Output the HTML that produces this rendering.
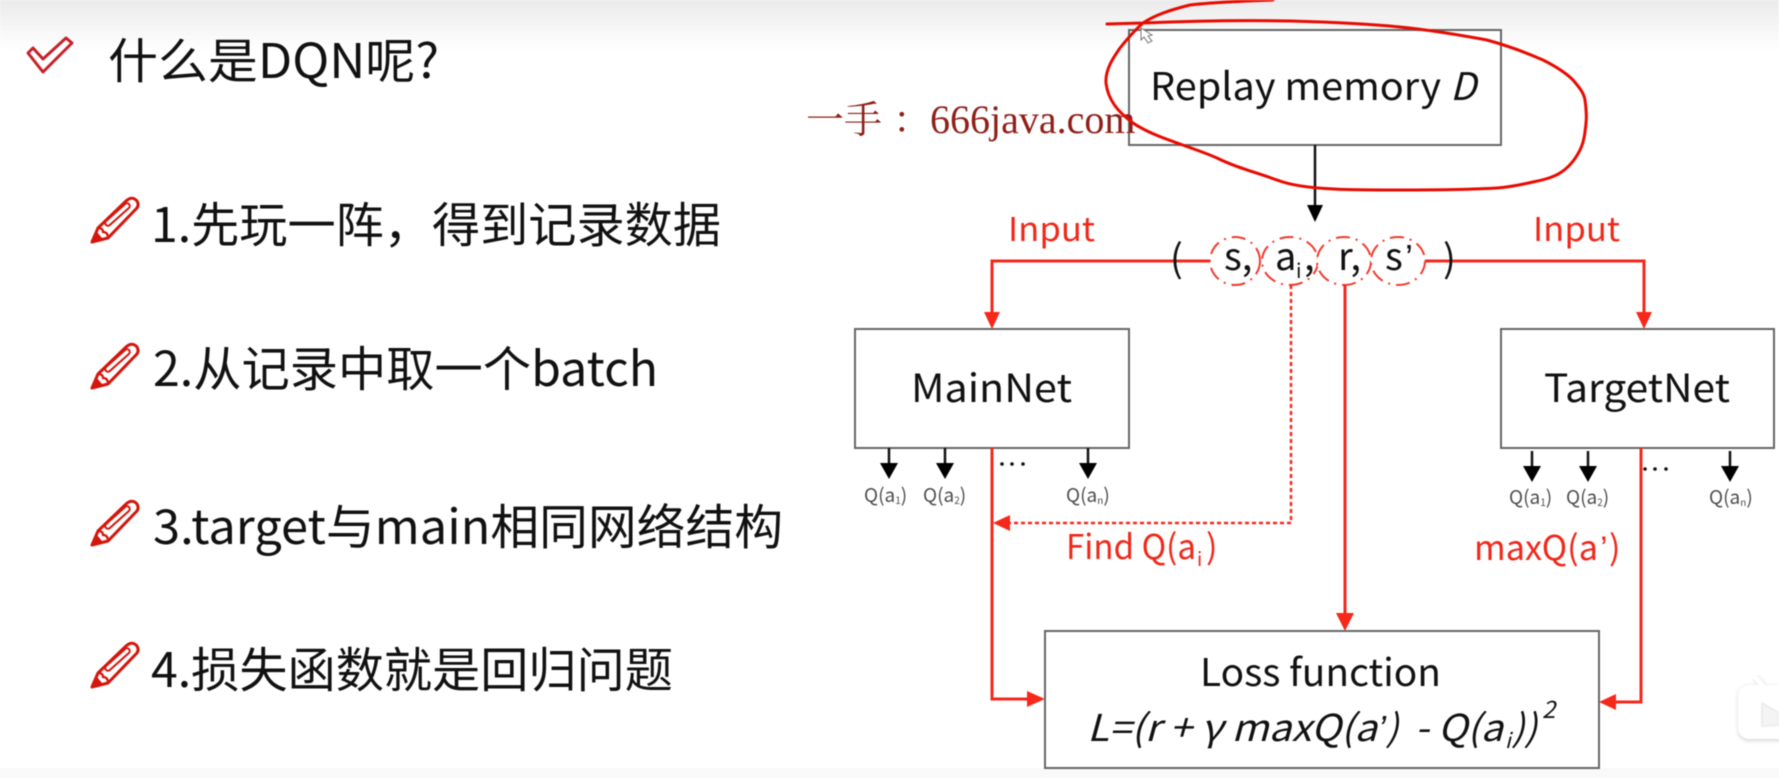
<!DOCTYPE html>
<html>
<head>
<meta charset="utf-8">
<style>
html,body{margin:0;padding:0;width:1779px;height:778px;overflow:hidden;background:#fff}
svg{display:block;position:absolute;left:0;top:0;filter:blur(0.4px)}
text{font-family:"Noto Sans CJK SC","Liberation Sans",sans-serif;fill:#111}
text.ap{font-family:"Liberation Sans",sans-serif}
text.wm{font-family:"Liberation Serif","Noto Serif CJK SC",serif;fill:#8f1f18}
.r{fill:#f0281a}
.q{fill:#4c4c4c;font-size:19px}
.box{fill:#fff;stroke:#666;stroke-width:2}
.rl{stroke:#f5281a;stroke-width:3;fill:none}
.rh{fill:#f5281a}
.circ{fill:#fff;stroke:#ee3a2c;stroke-width:2;stroke-dasharray:14 6 2 6}
</style>
</head>
<body>
<svg width="1779" height="778" viewBox="0 0 1779 778" xmlns="http://www.w3.org/2000/svg">
<defs>
<linearGradient id="top" x1="0" y1="0" x2="0" y2="1"><stop offset="0" stop-color="#ebebeb"/><stop offset="1" stop-color="#ffffff"/></linearGradient>
<filter id="sh" x="-20%" y="-20%" width="140%" height="140%"><feGaussianBlur stdDeviation="2"/></filter>
<g id="pencil">
<path d="M1 45 L7 31 L34 5 Q41 -2 46 4 Q49 9 44 13 L17 41 Z" fill="#fff" stroke="#d4160c" stroke-width="3" stroke-linejoin="round"/>
<path d="M1 45 L5 35 L10 41 Z" fill="#d4160c" stroke="#d4160c" stroke-width="1.5"/>
<path d="M7 31 Q12 31 12 35 Q17 35 17 41" fill="none" stroke="#d4160c" stroke-width="2.2"/>
<line x1="17" y1="26" x2="36" y2="9" stroke="#d4160c" stroke-width="7.5" stroke-linecap="round"/>
<line x1="17" y1="26" x2="36" y2="9" stroke="#fff" stroke-width="3.5" stroke-linecap="round"/>
</g>
</defs>
<rect x="0" y="0" width="1779" height="778" fill="#fff"/>
<rect x="0" y="0" width="1779" height="50" fill="url(#top)"/>
<rect x="0" y="768" width="1779" height="10" fill="#f9f9f9"/>

<!-- left column -->
<path d="M28 53 L33 48 L43 59 L66 38 L72 43 L43 72 Z" fill="#fff" stroke="#c8202a" stroke-width="3" stroke-linejoin="round"/>
<text x="108" y="78" font-size="48" textLength="331" lengthAdjust="spacingAndGlyphs">什么是DQN呢?</text>

<use href="#pencil" x="91" y="197"/>
<text x="151" y="242" font-size="48" textLength="570" lengthAdjust="spacingAndGlyphs">1.先玩一阵，得到记录数据</text>
<use href="#pencil" x="91" y="343"/>
<text x="153" y="386" font-size="48" textLength="505" lengthAdjust="spacingAndGlyphs">2.从记录中取一个batch</text>
<use href="#pencil" x="91" y="500"/>
<text x="153" y="544" font-size="48" textLength="630" lengthAdjust="spacingAndGlyphs">3.target与main相同网络结构</text>
<use href="#pencil" x="91" y="642"/>
<text x="151" y="687" font-size="48" textLength="522" lengthAdjust="spacingAndGlyphs">4.损失函数就是回归问题</text>

<!-- Replay memory -->
<rect class="box" x="1129" y="30" width="372" height="115"/>
<text x="1150" y="100" font-size="38" textLength="291" lengthAdjust="spacingAndGlyphs">Replay memory</text>
<text x="1450" y="100" font-size="38" font-style="italic">D</text>
<line x1="1315" y1="145" x2="1315" y2="208" stroke="#111" stroke-width="2.5"/>
<polygon points="1307,205 1323,205 1315,222" fill="#000"/>

<!-- watermark -->
<text class="wm" x="806" y="133" font-size="38">一手</text>
<text class="wm" x="893" y="133" font-size="38">：</text>
<text class="wm" x="930" y="133" font-size="40">666java.com</text>

<!-- red scribble -->
<path d="M1107 24 L1143 23 C1190 21 1240 20 1290 21 C1330 22 1370 24 1400 27 C1430 30 1460 35 1487 40 C1505 45 1525 52 1543 60 C1555 66 1565 72 1573 80 C1579 87 1584 93 1585 100 C1586 108 1587 115 1586 123 C1585 133 1584 142 1580 150 C1575 160 1568 168 1560 173 C1552 178 1542 180 1533 182 C1520 185 1510 187 1497 188 C1465 190 1430 190 1400 190 C1375 190 1350 190 1334 189 C1310 188 1290 185 1277 180 C1255 172 1235 167 1217 158 C1190 146 1155 138 1133 123 C1118 112 1108 100 1106 83 C1105 70 1113 58 1120 48 C1128 38 1135 30 1143 23 C1155 15 1170 10 1190 5 C1215 2 1245 1 1273 0" fill="none" stroke="#e80a00" stroke-width="3" stroke-linecap="round"/>

<!-- cursor -->
<path d="M1141 28 L1141 40 L1144 37 L1148 43 L1152 41 L1148 36 L1152 35 Z" fill="#fff" stroke="#777" stroke-width="1"/>

<!-- inputs -->
<text class="r" x="1008" y="241" font-size="33" textLength="87" lengthAdjust="spacingAndGlyphs">Input</text>
<text class="r" x="1533" y="241" font-size="33" textLength="87" lengthAdjust="spacingAndGlyphs">Input</text>
<path class="rl" d="M1210 261 L992 261 L992 315"/>
<polygon class="rh" points="984,312 1000,312 992,329"/>
<path class="rl" d="M1425 261 L1644 261 L1644 315"/>
<polygon class="rh" points="1636,312 1652,312 1644,329"/>

<!-- tuple -->
<text x="1170" y="272" font-size="38">(</text>
<text x="1443" y="272" font-size="38">)</text>
<ellipse class="circ" cx="1235" cy="261" rx="25" ry="24"/>
<ellipse class="circ" cx="1290" cy="261" rx="28" ry="24"/>
<ellipse class="circ" cx="1344" cy="261" rx="27" ry="24"/>
<ellipse class="circ" cx="1398" cy="261" rx="27" ry="24"/>
<text x="1224" y="270" font-size="38">s,</text>
<text x="1275" y="270" font-size="38">a</text>
<text x="1296" y="278" font-size="20">i</text>
<text x="1304" y="270" font-size="38">,</text>
<text x="1338" y="270" font-size="38">r,</text>
<text x="1385" y="270" font-size="38">s</text>
<text class="ap" x="1405" y="270" font-size="36">’</text>

<!-- dotted -->
<path d="M1291 285 L1291 523 L1008 523" fill="none" stroke="#f5281a" stroke-width="2.5" stroke-dasharray="4 3"/>
<polygon class="rh" points="993,523 1010,515 1010,531"/>
<text class="r" x="1066" y="559" font-size="34" textLength="130" lengthAdjust="spacingAndGlyphs">Find Q(a</text>
<text class="r" x="1197" y="566" font-size="19">i</text>
<text class="r" x="1206" y="559" font-size="34">)</text>

<!-- r line -->
<line class="rl" x1="1345" y1="285" x2="1345" y2="615"/>
<polygon class="rh" points="1336,613 1354,613 1345,631"/>

<!-- MainNet -->
<rect class="box" x="855" y="329" width="274" height="119"/>
<text x="911" y="402" font-size="39" textLength="161" lengthAdjust="spacingAndGlyphs">MainNet</text>
<path class="rl" d="M992 448 L992 699 L1030 699"/>
<polygon class="rh" points="1027,691 1027,707 1045,699"/>
<g stroke="#111" stroke-width="2.5">
<line x1="889" y1="448" x2="889" y2="465"/><line x1="945" y1="448" x2="945" y2="465"/><line x1="1088" y1="448" x2="1088" y2="465"/>
</g>
<polygon points="880,463 898,463 889,479" fill="#000"/>
<polygon points="936,463 954,463 945,479" fill="#000"/>
<polygon points="1079,463 1097,463 1088,479" fill="#000"/>
<circle cx="1002" cy="464" r="1.8" fill="#111"/><circle cx="1012" cy="464" r="1.8" fill="#111"/><circle cx="1023" cy="464" r="1.8" fill="#111"/>
<text class="q" x="864" y="502">Q(a<tspan font-size="10" dy="2">1</tspan><tspan dy="-2">)</tspan></text>
<text class="q" x="923" y="502">Q(a<tspan font-size="10" dy="2">2</tspan><tspan dy="-2">)</tspan></text>
<text class="q" x="1066" y="502">Q(a<tspan font-size="10" dy="2">n</tspan><tspan dy="-2">)</tspan></text>

<!-- TargetNet -->
<rect class="box" x="1501" y="329" width="273" height="119"/>
<text x="1544" y="402" font-size="39" textLength="186" lengthAdjust="spacingAndGlyphs">TargetNet</text>
<path class="rl" d="M1641 448 L1641 702 L1610 702"/>
<polygon class="rh" points="1599,702 1616,694 1616,710"/>
<g stroke="#111" stroke-width="2.5">
<line x1="1532" y1="451" x2="1532" y2="468"/><line x1="1588" y1="451" x2="1588" y2="468"/><line x1="1730" y1="451" x2="1730" y2="468"/>
</g>
<polygon points="1523,466 1541,466 1532,482" fill="#000"/>
<polygon points="1579,466 1597,466 1588,482" fill="#000"/>
<polygon points="1721,466 1739,466 1730,482" fill="#000"/>
<circle cx="1645" cy="469" r="1.8" fill="#111"/><circle cx="1655" cy="469" r="1.8" fill="#111"/><circle cx="1666" cy="469" r="1.8" fill="#111"/>
<text class="q" x="1509" y="504">Q(a<tspan font-size="10" dy="2">1</tspan><tspan dy="-2">)</tspan></text>
<text class="q" x="1566" y="504">Q(a<tspan font-size="10" dy="2">2</tspan><tspan dy="-2">)</tspan></text>
<text class="q" x="1709" y="504">Q(a<tspan font-size="10" dy="2">n</tspan><tspan dy="-2">)</tspan></text>
<text class="r" x="1474" y="560" font-size="34" textLength="124" lengthAdjust="spacingAndGlyphs">maxQ(a</text>
<text class="r ap" x="1600" y="560" font-size="34">’</text>
<text class="r" x="1609" y="560" font-size="34">)</text>

<!-- Loss -->
<rect class="box" x="1045" y="631" width="554" height="137"/>
<text x="1200" y="686" font-size="38" textLength="241" lengthAdjust="spacingAndGlyphs">Loss function</text>
<text x="1087" y="741" font-size="37" font-style="italic" textLength="290" lengthAdjust="spacingAndGlyphs">L=(r + γ maxQ(a</text>
<text class="ap" x="1378" y="741" font-size="36" font-style="italic">’</text>
<text x="1386" y="741" font-size="37" font-style="italic">)</text>
<text x="1415" y="741" font-size="37" font-style="italic" textLength="88" lengthAdjust="spacingAndGlyphs">- Q(a</text>
<text x="1505" y="748" font-size="21" font-style="italic">i</text>
<text x="1512" y="741" font-size="37" font-style="italic">))</text>
<text x="1542" y="718" font-size="24" font-style="italic">2</text>

<!-- logo -->
<g>
<path d="M1755 677 L1764 687" stroke="#e4e4e4" stroke-width="6" stroke-linecap="round" fill="none" filter="url(#sh)"/>
<rect x="1738" y="686" width="60" height="55" rx="11" fill="#d8d8d8" filter="url(#sh)"/>
<path d="M1755 677 L1764 687" stroke="#fff" stroke-width="5" stroke-linecap="round" fill="none"/>
<rect x="1738" y="685" width="60" height="54" rx="11" fill="#fff"/>
<path d="M1762 703 L1779 713 L1779 725 L1762 726 Z" fill="#f4f4f4" stroke="#ededed" stroke-width="2" stroke-linejoin="round"/>
</g>
</svg>
</body>
</html>
